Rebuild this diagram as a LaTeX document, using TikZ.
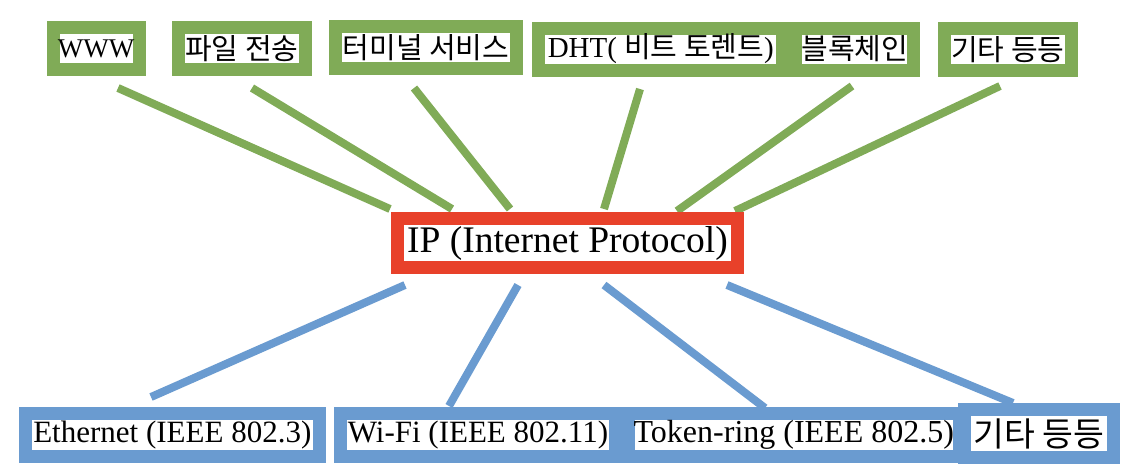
\documentclass[tikz,border=0pt]{standalone}
\usepackage{fontspec}
\setmainfont{Liberation Serif}
\newfontfamily\kr{Noto Sans CJK KR}
\definecolor{boxgreen}{HTML}{80AB57}
\definecolor{boxred}{HTML}{E8412A}
\definecolor{boxblue}{HTML}{6A9BD0}
\newcommand\krt[1]{{\kr #1}}
\begin{document}
\begin{tikzpicture}[x=1pt,y=-1pt,
  box/.style={draw, line width=13pt, fill=white, inner sep=0pt, text=black},
  gbox/.style={box, draw=boxgreen, minimum height=42pt, font=\fontsize{29}{32}\selectfont},
  bbox/.style={box, draw=boxblue, minimum height=42.4pt, font=\fontsize{31}{34}\selectfont},
  rbox/.style={box, draw=boxred, minimum height=48.7pt, minimum width=340.3pt, font=\fontsize{37.5}{40}\selectfont},
  gline/.style={draw=boxgreen, line width=8pt},
  bline/.style={draw=boxblue, line width=8pt}
]
\useasboundingbox (0,0) rectangle (1127,472);

% connector end points
\coordinate (g1a) at (118,88);  \coordinate (g1b) at (390,209);
\coordinate (g2a) at (252,88);  \coordinate (g2b) at (452,209);
\coordinate (g3a) at (414,88);  \coordinate (g3b) at (510,209);
\coordinate (g4a) at (640,89);  \coordinate (g4b) at (604,209);
\coordinate (g5a) at (852,86);  \coordinate (g5b) at (677,211);
\coordinate (g6a) at (1000,86); \coordinate (g6b) at (735,211);
\coordinate (b1a) at (405,285); \coordinate (b1b) at (151,397);
\coordinate (b2a) at (518,285); \coordinate (b2b) at (449,406);
\coordinate (b3a) at (604,285); \coordinate (b3b) at (765,408);
\coordinate (b4a) at (727,285); \coordinate (b4b) at (1013,403);

\draw[gline] (g1a) -- (g1b);
\draw[gline] (g2a) -- (g2b);
\draw[gline] (g3a) -- (g3b);
\draw[gline] (g4a) -- (g4b);
\draw[gline] (g5a) -- (g5b);
\draw[gline] (g6a) -- (g6b);
\draw[bline] (b1a) -- (b1b);
\draw[bline] (b2a) -- (b2b);
\draw[bline] (b3a) -- (b3b);
\draw[bline] (b4a) -- (b4b);

% top boxes
\node[gbox, minimum width=86pt, font=\fontsize{27}{30}\selectfont] (www) at (96.2,48.6) {WWW};
\node[gbox, minimum width=126.7pt] (file) at (241.8,48.6) {\krt{파일 전송}};
\node[gbox, minimum width=180.4pt] (term) at (426,47.8) {\krt{터미널 서비스}};
\node[gbox, minimum width=244pt] (dht) at (660.8,49) {DHT( \krt{비트 토렌트})};
\node[gbox, minimum width=118pt] (block) at (854.8,49) {\krt{블록체인}};
\node[gbox, minimum width=126.7pt] (etc1) at (1007.8,49.2) {\krt{기타 등등}};

% center box
\node[rbox] (ip) at (567.5,243.2) {IP (Internet Protocol)};

% bottom boxes
\node[bbox, minimum width=294.3pt] (eth) at (172.3,435) {Ethernet (IEEE 802.3)};
\node[bbox, minimum width=274.4pt] (wifi) at (478,435) {Wi-Fi (IEEE 802.11)};
\node[bbox, minimum width=331.3pt, font=\fontsize{32}{35}\selectfont] (token) at (793.8,435) {Token-ring (IEEE 802.5)};
\node[bbox, minimum width=149pt, minimum height=48pt, font=\fontsize{33.5}{36}\selectfont] (etc2) at (1038.7,433.8) {\krt{기타 등등}};
\end{tikzpicture}
\end{document}
